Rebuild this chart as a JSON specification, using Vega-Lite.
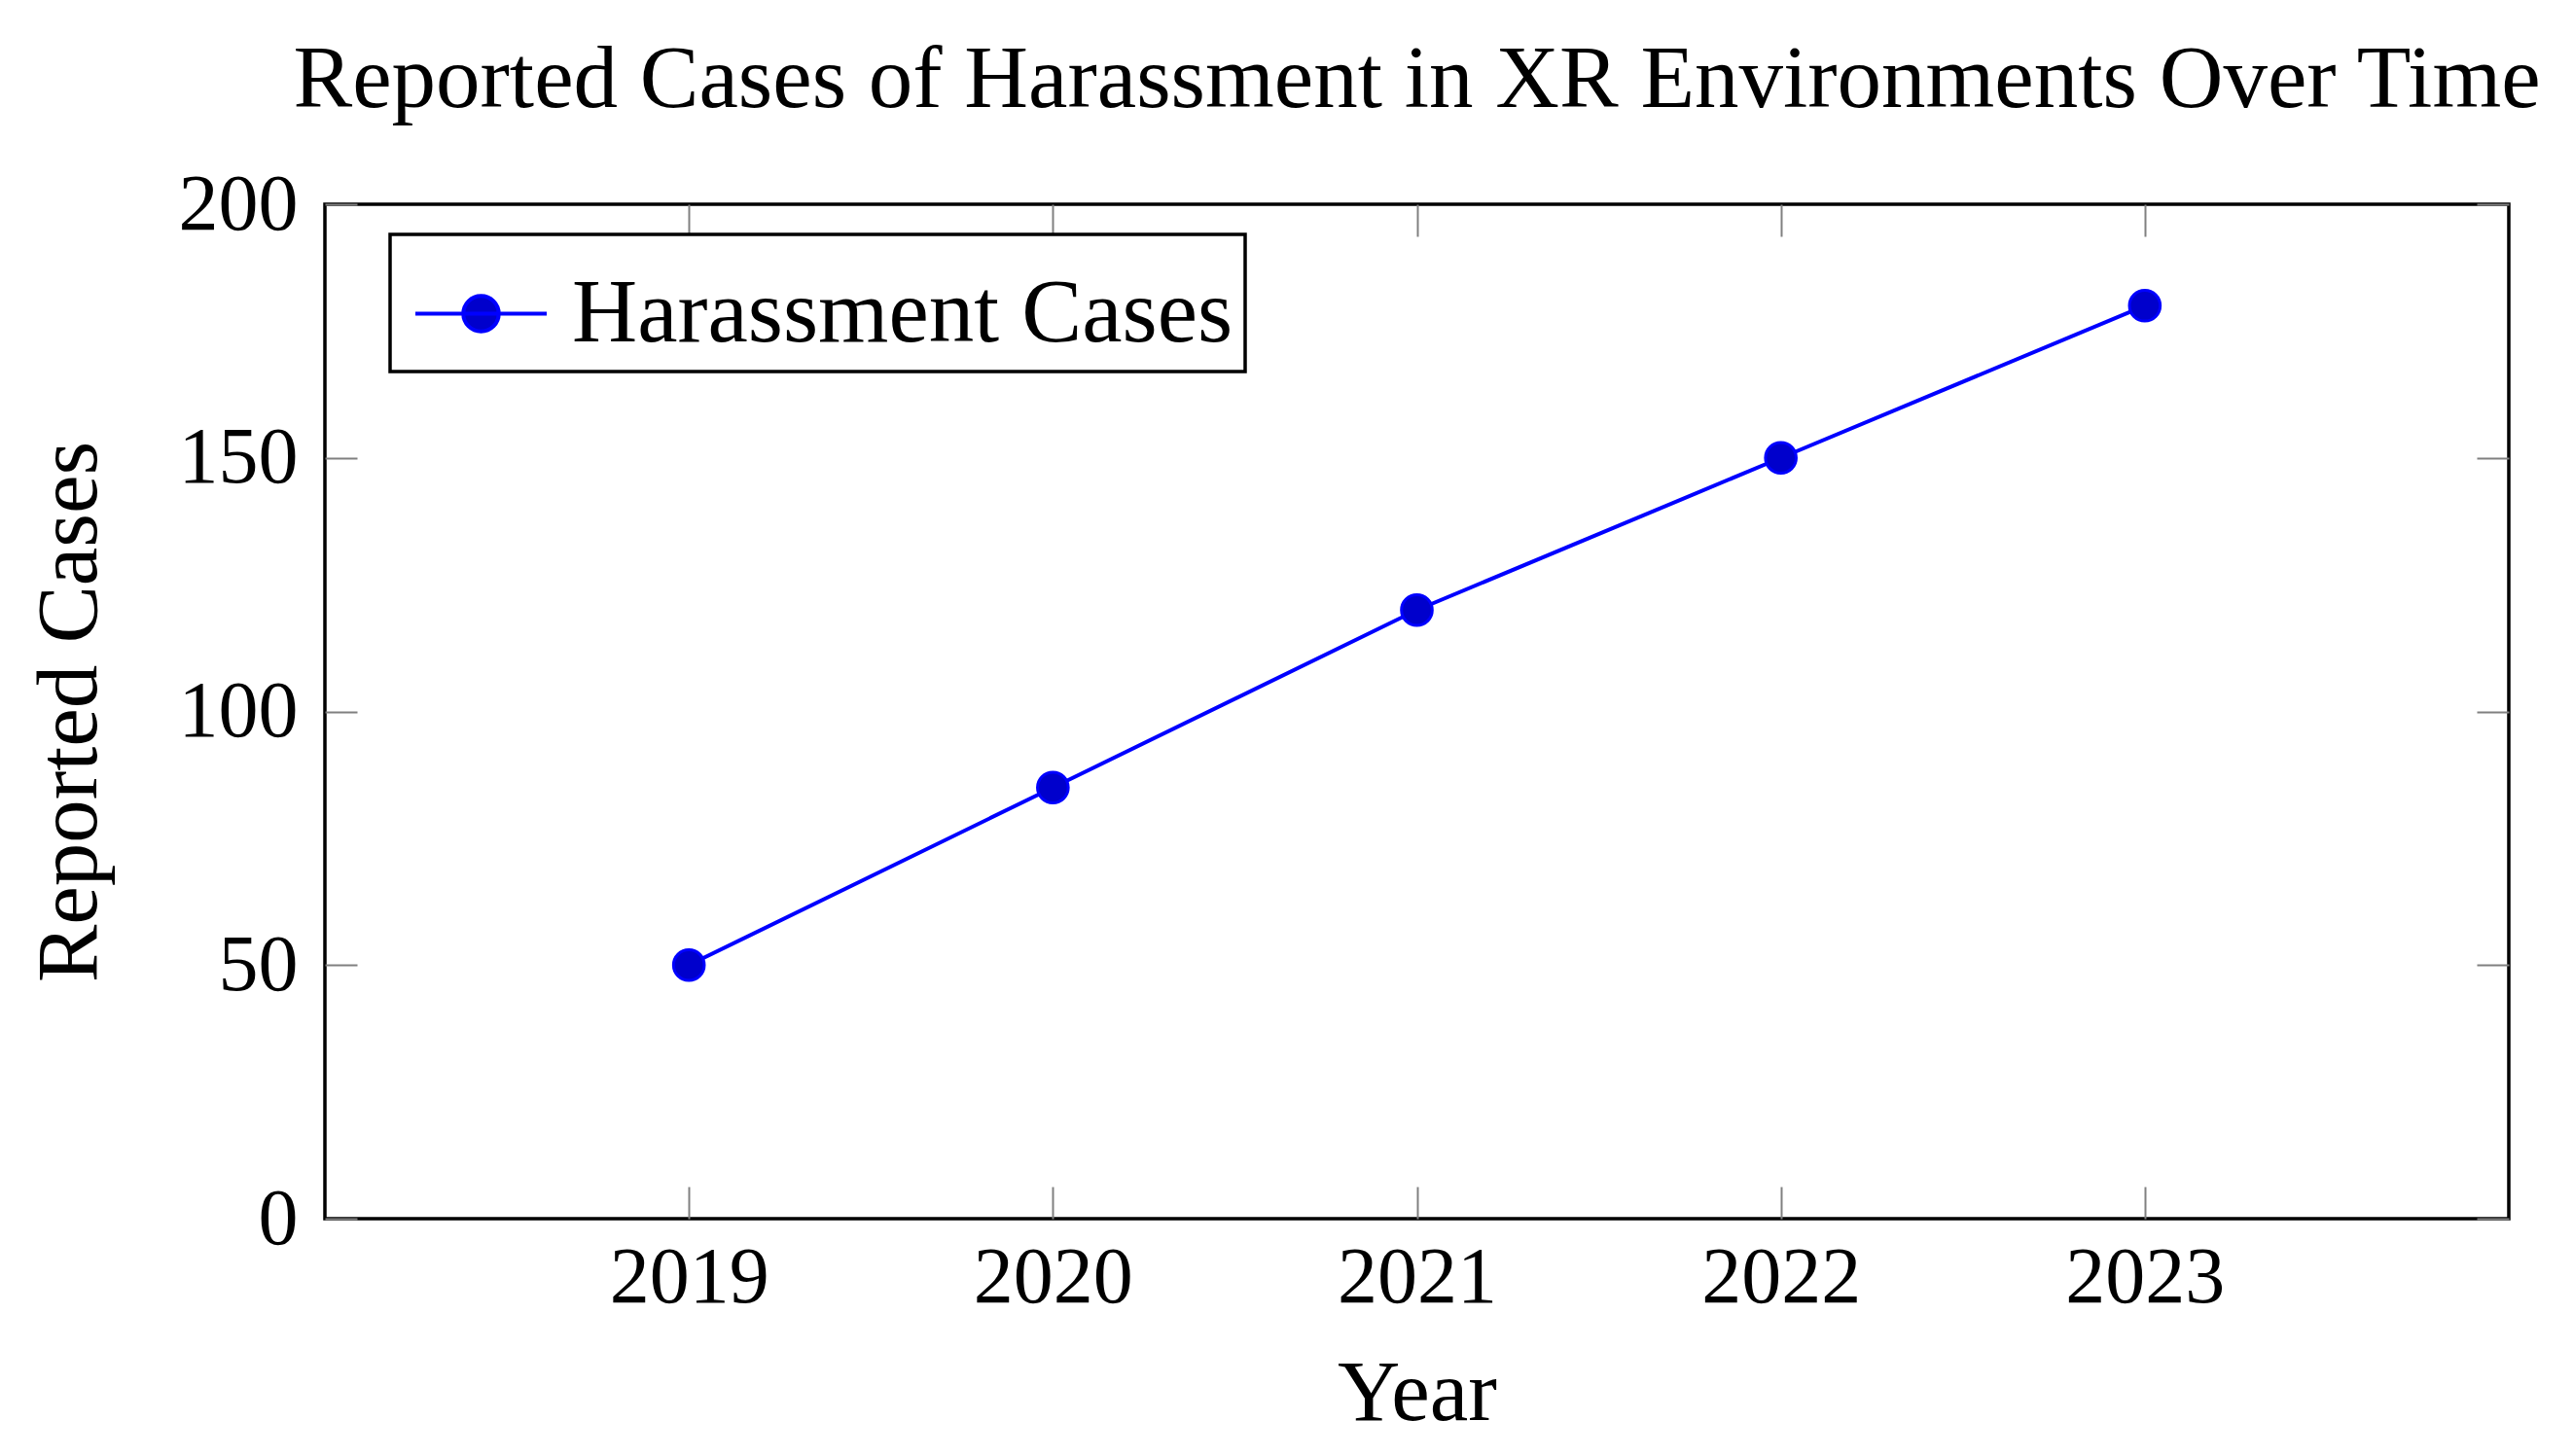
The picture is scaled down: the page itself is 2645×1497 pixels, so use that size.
{
  "$schema": "https://vega.github.io/schema/vega-lite/v6.json",
  "autosize": "none",
  "width": 2245,
  "height": 1043,
  "padding": {"left": 334, "top": 210, "right": 66, "bottom": 244},
  "background": "white",
  "data": {"values": [
    {"year": 2019, "cases": 50, "series": "Harassment Cases"},
    {"year": 2020, "cases": 85, "series": "Harassment Cases"},
    {"year": 2021, "cases": 120, "series": "Harassment Cases"},
    {"year": 2022, "cases": 150, "series": "Harassment Cases"},
    {"year": 2023, "cases": 180, "series": "Harassment Cases"}
  ]},
  "title": {
    "text": "Reported Cases of Harassment in XR Environments Over Time",
    "anchor": "middle",
    "font": "Liberation Serif",
    "fontSize": 91,
    "fontWeight": "normal",
    "color": "black",
    "offset": 40
  },
  "config": {
    "view": {"stroke": "black", "strokeWidth": 3.5},
    "axis": {
      "labelFont": "Liberation Serif",
      "titleFont": "Liberation Serif",
      "labelFontSize": 82,
      "titleFontSize": 89,
      "titleFontWeight": "normal",
      "labelColor": "black",
      "titleColor": "black",
      "domain": false,
      "grid": false,
      "tickColor": "#808080",
      "tickWidth": 2,
      "tickSize": -33
    }
  },
  "resolve": {"axis": {"x": "independent", "y": "independent"}},
  "layer": [
    {
      "mark": {"type": "line", "strokeWidth": 4},
      "encoding": {
        "x": {"field": "year", "type": "quantitative",
              "scale": {"domain": [2018, 2024], "nice": false, "zero": false},
              "axis": {"orient": "bottom", "values": [2019, 2020, 2021, 2022, 2023], "format": "d",
                       "title": "Year", "labelPadding": 53, "titlePadding": 35, "labelFlush": false}},
        "y": {"field": "cases", "type": "quantitative",
              "scale": {"domain": [0, 200], "nice": false},
              "axis": {"orient": "left", "values": [0, 50, 100, 150, 200],
                       "title": "Reported Cases", "labelPadding": 61, "titlePadding": 66}},
        "color": {"field": "series", "type": "nominal",
                  "scale": {"range": ["#0000ff"]},
                  "legend": {
                    "title": null,
                    "orient": "none",
                    "legendX": 67,
                    "legendY": 31,
                    "strokeColor": "black",
                    "fillColor": "white",
                    "padding": 12,
                    "symbolOffset": 12,
                    "symbolType": "M -1 0 H 1 M 0.27 0 A 0.27 0.27 0 1 1 -0.27 0 A 0.27 0.27 0 1 1 0.27 0 Z",
                    "symbolSize": 18225,
                    "symbolStrokeWidth": 4,
                    "symbolFillColor": "#0000cc",
                    "symbolStrokeColor": "#0000ff",
                    "labelFont": "Liberation Serif",
                    "labelFontSize": 93,
                    "labelColor": "black",
                    "labelOffset": 24,
                    "labelLimit": 2000,
                    "labelExpr": "datum.label + '\u00a0'",
                    "encode": {"legend": {"update": {"strokeWidth": {"value": 3.5}}}}
                  }}
      }
    },
    {
      "mark": {"type": "point", "shape": "circle", "filled": true, "size": 1000,
               "fill": "#0000cc", "stroke": "#0000ff", "strokeWidth": 3, "opacity": 1},
      "encoding": {
        "x": {"field": "year", "type": "quantitative",
              "axis": {"orient": "top", "values": [2019, 2020, 2021, 2022, 2023], "labels": false, "title": null}},
        "y": {"field": "cases", "type": "quantitative",
              "axis": {"orient": "right", "values": [0, 50, 100, 150, 200], "labels": false, "title": null}}
      }
    }
  ]
}
